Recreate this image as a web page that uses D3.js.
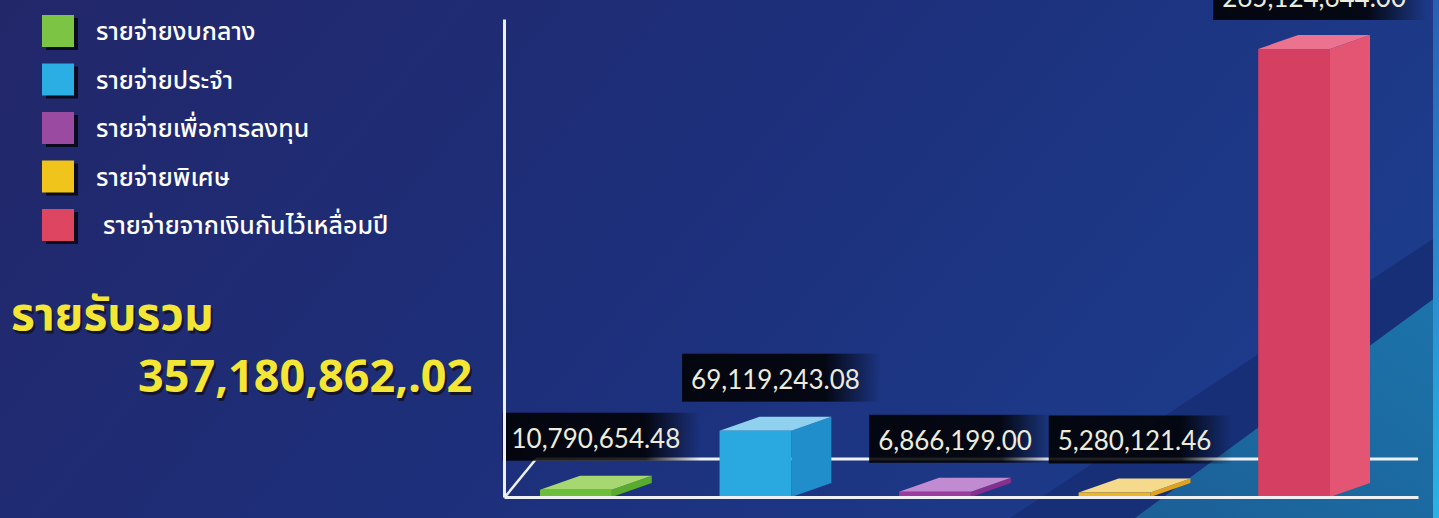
<!DOCTYPE html>
<html>
<head>
<meta charset="utf-8">
<script src="https://cdn.jsdelivr.net/npm/d3@7"></script>
<style>
  html, body { margin: 0; padding: 0; background: #1f2767; overflow: hidden; }
  svg { display: block; }
</style>
</head>
<body>
<div id="chart"></div>
<script>
(function(){
  // data
  const categories = ["รายจ่ายงบกลาง", "รายจ่ายประจำ", "รายจ่ายเพื่อการลงทุน", "รายจ่ายพิเศษ", "รายจ่ายจากเงินกันไว้เหลื่อมปี"];
  const values = [10790654.48, 69119243.08, 6866199.00, 5280121.46, 265124644.00];
  const valueLabels = ["10,790,654.48", "69,119,243.08", "6,866,199.00", "5,280,121.46", "265,124,644.00"];
  const totalTitle = "รายรับรวม";
  const totalLabel = "357,180,862,.02";

  const colors = [
    { front: "#6dbf3b", side: "#58ab2d", top: "#a6d770", key: "#7cc443" },
    { front: "#2aa9e0", side: "#1f8ecb", top: "#8fd1ee", key: "#2aaee3" },
    { front: "#9a3b9e", side: "#86308d", top: "#c18bd1", key: "#9b4aa2" },
    { front: "#efb624", side: "#e2a21b", top: "#f6da8c", key: "#f0c41b" },
    { front: "#d53f62", side: "#e45473", top: "#ec7390", key: "#de4560" }
  ];

  const W = 1439, H = 518;
  const svg = d3.select("#chart").append("svg")
    .attr("width", W)
    .attr("height", H);

  const defs = svg.append("defs");

  // background
  const bg = defs.append("linearGradient").attr("id", "bg")
    .attr("x1", 0).attr("y1", 0).attr("x2", 1).attr("y2", 0.3);
  bg.append("stop").attr("offset", "0%").attr("stop-color", "#222769");
  bg.append("stop").attr("offset", "55%").attr("stop-color", "#1d2f7b");
  bg.append("stop").attr("offset", "100%").attr("stop-color", "#1c3b8a");
  svg.append("rect").attr("width", W).attr("height", H).attr("fill", "url(#bg)");

  svg.append("polygon")
    .attr("points", "1010,518 1439,235 1439,295 1135,518")
    .attr("fill", "#172f76");
  const teal = defs.append("linearGradient").attr("id", "teal")
    .attr("x1", 0).attr("y1", 1).attr("x2", 1).attr("y2", 0);
  teal.append("stop").attr("offset", "0%").attr("stop-color", "#1c5f97");
  teal.append("stop").attr("offset", "100%").attr("stop-color", "#1b74aa");
  svg.append("polygon")
    .attr("points", "1135,518 1439,295 1439,518")
    .attr("fill", "url(#teal)");
  const strip = defs.append("linearGradient").attr("id", "strip")
    .attr("x1", 0).attr("y1", 0).attr("x2", 0).attr("y2", 1);
  strip.append("stop").attr("offset", "0%").attr("stop-color", "#2a5fb4");
  strip.append("stop").attr("offset", "100%").attr("stop-color", "#2ab3e6");
  svg.append("rect").attr("x", 1433).attr("y", 0).attr("width", 6).attr("height", H)
    .attr("fill", "url(#strip)");

  // legend
  const legend = svg.append("g");
  const rowY = d3.scalePoint().domain(categories).range([31, 225]);
  const rows = legend.selectAll("g").data(categories).enter().append("g")
    .attr("transform", d => `translate(0,${rowY(d)})`);
  rows.append("rect")
    .attr("x", 46).attr("y", -13).attr("width", 32).attr("height", 32)
    .attr("fill", "#0b0b1e");
  rows.append("rect")
    .attr("x", 42).attr("y", -16).attr("width", 32).attr("height", 32)
    .attr("fill", (d, i) => colors[i].key);
  rows.append("text")
    .attr("x", (d, i) => i === 4 ? 103 : 96)
    .attr("y", 9)
    .attr("fill", "#ffffff")
    .style("font-family", "'Noto Sans Thai', 'Noto Sans', 'DejaVu Sans', sans-serif")
    .style("font-weight", 500)
    .style("font-size", "25px")
    .text(d => d);

  // total
  const total = svg.append("g")
    .style("font-weight", "bold")
    .attr("fill", "#f4e634");
  [[totalTitle, 11, 330, "46px", "'Noto Sans Thai', sans-serif"],
   [totalLabel, 138, 392, "45px", "'Noto Sans', 'Liberation Sans', sans-serif"]].forEach(t => {
    total.append("text").attr("x", t[1] + 2).attr("y", t[2] + 3)
      .attr("fill", "#15152e").style("font-size", t[3]).style("font-family", t[4]).text(t[0]);
    total.append("text").attr("x", t[1]).attr("y", t[2])
      .style("font-size", t[3]).style("font-family", t[4]).text(t[0]);
  });

  // scales
  const baseY = 497;
  const depthX = 40, depthY = -14;
  const x = d3.scaleBand()
    .domain(categories)
    .range([540, 1330])
    .paddingInner(0.6)
    .paddingOuter(0);
  const h = d3.scalePow().exponent(1.45)
    .domain([0, d3.max(values)])
    .range([3, 448]);
  const yAxisScale = d3.scaleLinear().domain([0, 1]).range([baseY, 19]);

  // back floor line and diagonal
  svg.append("line")
    .attr("x1", 536).attr("x2", 1418).attr("y1", 459).attr("y2", 459)
    .attr("stroke", "#eef0f4").attr("stroke-width", 3);
  svg.append("line")
    .attr("x1", 505).attr("y1", baseY).attr("x2", 536).attr("y2", 459)
    .attr("stroke", "#eef0f4").attr("stroke-width", 2.5);

  // value labels (boxes fade out to the right)
  const fade = defs.append("linearGradient").attr("id", "fade")
    .attr("x1", 0).attr("y1", 0).attr("x2", 1).attr("y2", 0);
  fade.append("stop").attr("offset", "0%").attr("stop-color", "#000").attr("stop-opacity", 0.88);
  fade.append("stop").attr("offset", "72%").attr("stop-color", "#000").attr("stop-opacity", 0.85);
  fade.append("stop").attr("offset", "100%").attr("stop-color", "#000").attr("stop-opacity", 0);

  const labels = svg.append("g");
  categories.forEach((c, i) => {
    const backTop = baseY - h(values[i]) + depthY;
    const bottom = Math.min(backTop - 15, 466);
    const cx = x(c) + (x.bandwidth() + depthX) / 2;
    const g = labels.append("g");
    const box = g.append("rect");
    const t = g.append("text")
      .attr("x", cx).attr("y", bottom - 13)
      .attr("text-anchor", "middle")
      .attr("fill", "#ecebdc")
      .style("font-family", "Lato, 'Open Sans', sans-serif")
      .style("font-size", "26px")
      .text(valueLabels[i]);
    const tw = t.node().getComputedTextLength();
    box.attr("x", cx - tw / 2 - 9).attr("y", bottom - 48)
      .attr("width", tw + 30).attr("height", 48)
      .attr("fill", "url(#fade)");
  });

  // bars
  const bars = svg.append("g").selectAll("g").data(categories).enter().append("g");
  bars.each(function(c, i) {
    const g = d3.select(this);
    const x0 = x(c), x1 = x(c) + x.bandwidth();
    const y0 = baseY, y1 = baseY - h(values[i]);
    g.append("polygon")
      .attr("points", [[x1, y0], [x1 + depthX, y0 + depthY], [x1 + depthX, y1 + depthY], [x1, y1]].join(" "))
      .attr("fill", colors[i].side);
    g.append("polygon")
      .attr("points", [[x0, y1], [x1, y1], [x1 + depthX, y1 + depthY], [x0 + depthX, y1 + depthY]].join(" "))
      .attr("fill", colors[i].top);
    g.append("rect")
      .attr("x", x0).attr("y", y1)
      .attr("width", x.bandwidth()).attr("height", y0 - y1)
      .attr("fill", colors[i].front);
  });

  // axes (lines only)
  const axisLineX = d3.scaleLinear().domain([0, 1]).range([504, 1418]);
  svg.append("g")
    .attr("transform", `translate(0,${baseY})`)
    .call(d3.axisBottom(axisLineX).tickValues([]).tickSizeOuter(0))
    .select(".domain").attr("stroke", "#eef0f4").attr("stroke-width", 3);
  svg.append("g")
    .attr("transform", "translate(504,0)")
    .call(d3.axisLeft(yAxisScale).tickValues([]).tickSizeOuter(0))
    .select(".domain").attr("stroke", "#eef0f4").attr("stroke-width", 3);
})();
</script>
</body>
</html>
